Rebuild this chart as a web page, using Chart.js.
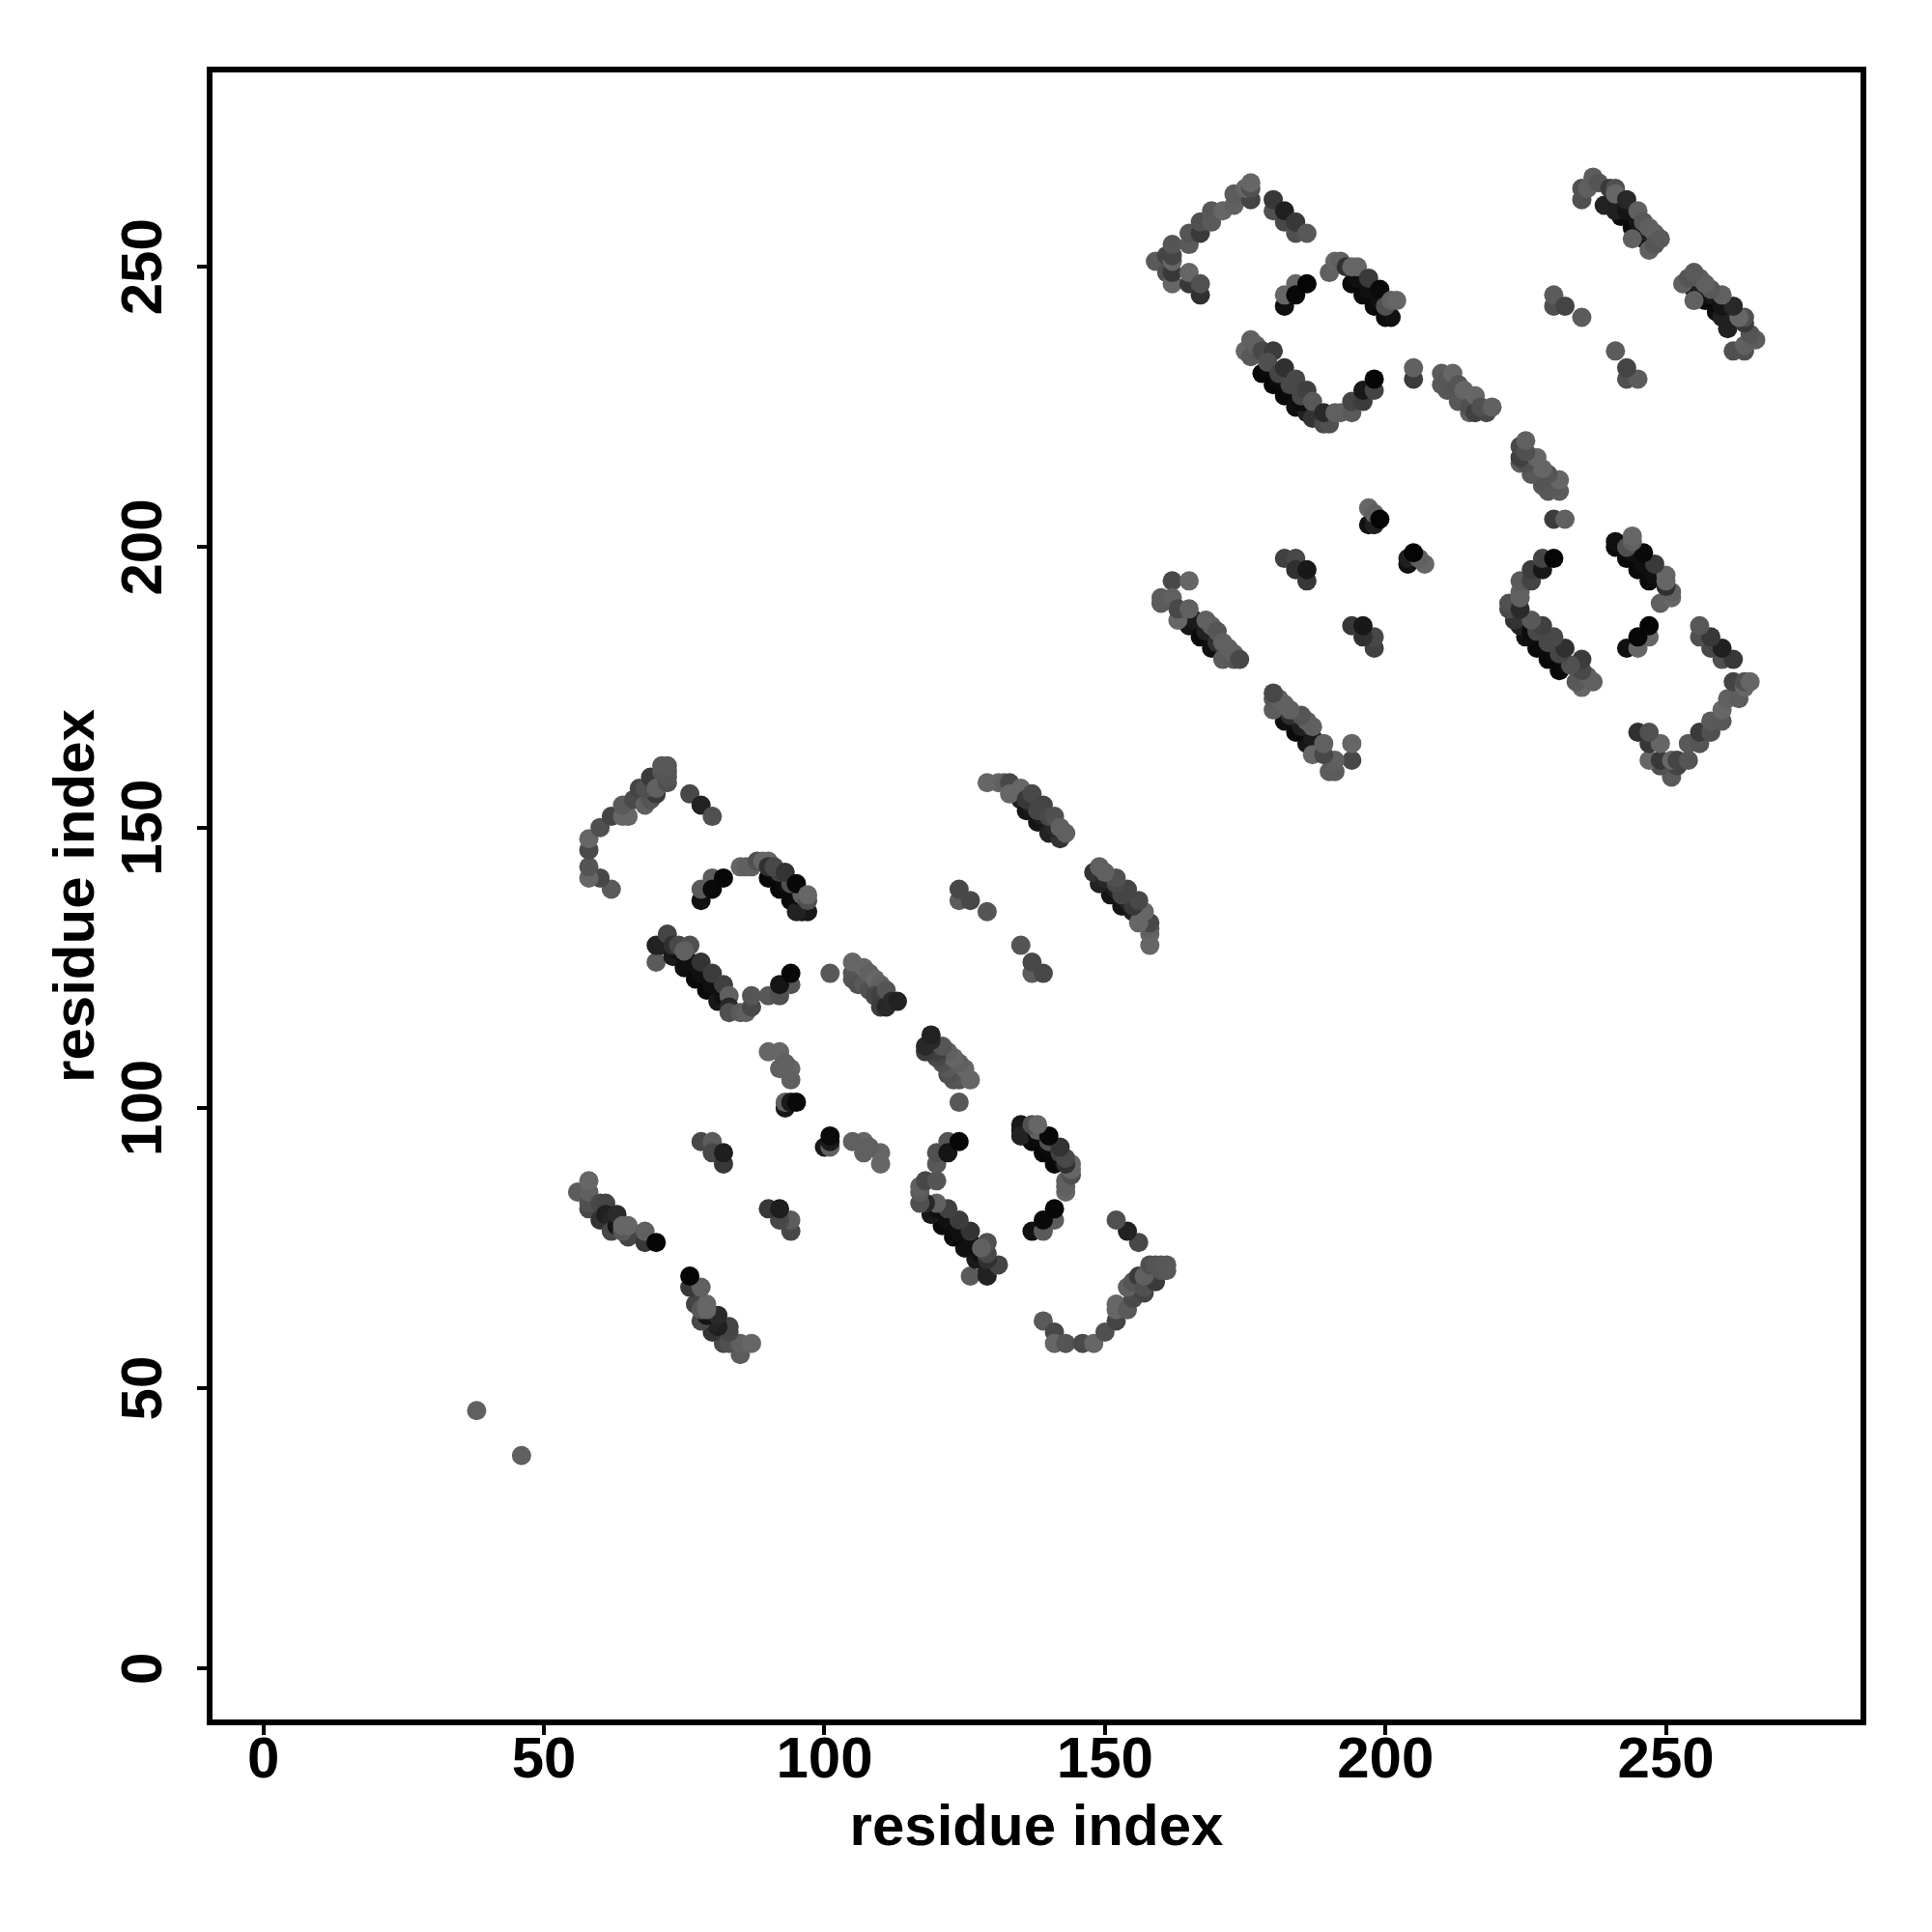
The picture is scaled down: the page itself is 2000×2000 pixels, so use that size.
<!DOCTYPE html>
<html>
<head>
<meta charset="utf-8">
<style>
  html, body { margin: 0; padding: 0; background: #fff; }
  canvas { display: block; }
</style>
<script src="https://cdn.jsdelivr.net/npm/chart.js@4"></script>
</head>
<body>
<canvas id="contactMap" width="2000" height="2000"></canvas>
<script>
// contacts: [residue i, residue j, grey level]
// the map is symmetric, so only i < j is listed and the mirror is added below
const farPair = [[38,46,0x60]];
const arcOne = [[62,139,0x5a],[60,141,0x48],[58,141,0x66],[58,143,0x55],[58,146,0x4a],[58,148,0x66],[60,150,0x50],[62,152,0x44],[64,152,0x66],[65,152,0x66],[64,154,0x5a],[66,155,0x4a],[67,157,0x44],[68,154,0x60],[69,155,0x55],[70,156,0x3a],[68,157,0x50],[69,159,0x3a],[71,158,0x40],[70,157,0x60],[72,158,0x50],[72,159,0x55],[71,160,0x55],[72,160,0x55],[71,161,0x58],[72,161,0x58]];
const tailOne = [[76,156,0x48],[78,154,0x22],[80,152,0x50]];
const hookOne = [[78,137,0x10],[78,139,0x5a],[80,141,0x5c],[80,139,0x0a],[82,141,0x08]];
const strandOne = [[90,141,0x08],[92,139,0x08],[94,137,0x0a],[96,135,0x10],[97,135,0x18],[95,135,0x22],[91,142,0x0c],[93,140,0x0c],[95,138,0x0c],[85,143,0x66],[86,143,0x60],[87,143,0x60],[88,144,0x50],[89,144,0x66],[90,144,0x66],[90,143,0x30],[92,142,0x40],[94,140,0x50],[96,138,0x60],[91,143,0x48],[93,142,0x33],[95,140,0x08],[97,137,0x50],[97,138,0x66]];
const strandTwo = [[70,126,0x5a],[70,129,0x22],[71,129,0x22],[73,127,0x1a],[75,125,0x10],[77,123,0x0a],[79,121,0x0a],[81,119,0x18],[74,128,0x10],[76,126,0x10],[78,124,0x10],[80,122,0x10],[82,120,0x10],[72,131,0x44],[73,129,0x30],[74,129,0x48],[76,129,0x50],[75,128,0x60],[78,126,0x33],[80,124,0x3c],[82,122,0x40],[83,120,0x60],[83,118,0x28],[83,117,0x50],[85,117,0x5a],[86,117,0x60],[87,118,0x48],[87,120,0x55]];
const hookTwo = [[90,120,0x58],[92,120,0x50],[94,122,0x55],[92,122,0x15],[94,124,0x08]];
const strandThree = [[101,124,0x58],[105,123,0x55],[105,124,0x55],[105,126,0x66],[106,122,0x50],[107,122,0x58],[108,121,0x50],[107,125,0x66],[108,124,0x60],[109,123,0x66],[110,122,0x60],[109,120,0x48],[110,120,0x40],[110,118,0x3c],[111,118,0x28],[111,121,0x55],[112,119,0x2a],[113,119,0x22]];
const patchOne = [[93,100,0x18],[93,101,0x60],[94,101,0x1a],[95,101,0x0a],[90,110,0x66],[92,110,0x66],[92,107,0x60],[94,107,0x66],[93,108,0x60],[94,105,0x60]];
const patchTwo = [[78,94,0x48],[80,94,0x5c],[80,92,0x48],[82,90,0x38],[82,92,0x1e]];
const strandFour = [[56,85,0x5c],[58,82,0x48],[58,83,0x50],[58,85,0x60],[58,87,0x66],[60,80,0x33],[60,83,0x48],[61,83,0x44],[61,81,0x20],[62,80,0x25],[62,78,0x48],[63,79,0x15],[63,81,0x2a],[65,77,0x44],[64,78,0x58],[64,79,0x66],[65,79,0x66],[68,76,0x38],[68,78,0x60],[70,76,0x05]];
const strandFive = [[135,155,0x22],[136,153,0x15],[138,151,0x15],[140,149,0x22],[142,148,0x33],[137,154,0x20],[139,152,0x20],[141,150,0x28],[129,158,0x66],[131,158,0x66],[132,158,0x60],[133,158,0x48],[133,156,0x66],[135,157,0x66],[136,155,0x38],[137,156,0x48],[138,153,0x45],[139,154,0x44],[140,152,0x48],[141,152,0x50],[142,150,0x60],[143,149,0x60]];
const patchThree = [[124,137,0x5c],[124,139,0x48],[126,137,0x48],[129,135,0x55]];
const arcTwo = [[159,251,0x5a],[161,252,0x44],[161,249,0x50],[162,247,0x66],[162,249,0x38],[162,251,0x66],[162,252,0x45],[162,254,0x55],[165,247,0x38],[165,249,0x66],[167,245,0x30],[167,247,0x50],[165,254,0x5a],[165,256,0x55],[167,256,0x3a],[167,258,0x50],[169,258,0x5a],[169,260,0x58],[171,260,0x66],[173,261,0x60],[173,263,0x5c],[176,262,0x44],[175,264,0x66],[176,264,0x50],[176,265,0x66]];
const tailTwo = [[180,260,0x50],[180,262,0x38],[182,258,0x48],[182,260,0x20],[184,256,0x50],[184,258,0x38],[186,256,0x58]];
const hookThree = [[182,243,0x10],[182,245,0x66],[184,247,0x66],[184,245,0x08],[186,247,0x05]];
const strandSix = [[194,247,0x0a],[196,245,0x0a],[198,243,0x0a],[200,241,0x0c],[201,241,0x10],[195,248,0x10],[197,246,0x10],[199,244,0x10],[190,249,0x60],[191,251,0x66],[192,251,0x60],[193,250,0x30],[194,250,0x66],[195,250,0x66],[197,248,0x3a],[199,246,0x0a],[200,243,0x50],[201,244,0x60],[202,244,0x66]];
const strandSeven = [[178,231,0x08],[180,229,0x08],[182,227,0x0a],[184,225,0x10],[186,224,0x20],[179,232,0x0c],[181,230,0x0c],[183,228,0x0c],[185,226,0x0c],[175,235,0x66],[176,234,0x58],[176,237,0x60],[177,236,0x60],[178,235,0x48],[180,235,0x3c],[179,233,0x50],[181,231,0x45],[183,229,0x48],[185,227,0x48],[182,232,0x30],[184,230,0x48],[186,228,0x40],[187,223,0x33],[187,226,0x58],[189,222,0x48],[190,222,0x50],[189,224,0x2a],[191,224,0x60],[192,224,0x60],[194,224,0x5a],[194,226,0x44],[196,226,0x3c],[196,228,0x18],[198,228,0x44],[198,230,0x06]];
const patchFour = [[205,230,0x3c],[205,232,0x60]];
const strandEight = [[210,229,0x58],[210,231,0x5c],[211,230,0x58],[211,228,0x58],[212,228,0x55],[212,231,0x66],[213,226,0x58],[213,229,0x55],[214,226,0x58],[214,228,0x66],[215,224,0x60],[215,225,0x50],[216,224,0x40],[216,227,0x66],[218,224,0x48],[217,225,0x50],[219,225,0x60]];
const patchFive = [[197,204,0x10],[198,204,0x20],[197,207,0x66],[198,206,0x60],[199,205,0x05]];
const patchSix = [[230,243,0x50],[230,245,0x5c],[232,243,0x44],[235,241,0x5c]];
const patchSeven = [[182,198,0x40],[184,198,0x48],[184,196,0x30],[186,194,0x38],[186,196,0x18]];
const strandNine = [[165,186,0x15],[166,187,0x1a],[167,184,0x0a],[169,182,0x10],[168,185,0x20],[170,183,0x30],[162,194,0x48],[165,194,0x66],[160,190,0x5c],[160,191,0x5c],[162,191,0x60],[163,187,0x66],[163,189,0x48],[165,189,0x60],[168,187,0x60],[169,186,0x60],[170,185,0x55],[171,180,0x5c],[173,180,0x58],[171,183,0x60],[172,182,0x60],[173,181,0x60],[174,180,0x48]];
const strandTen = [[239,261,0x22],[242,259,0x0c],[244,257,0x0a],[246,255,0x10],[241,260,0x20],[243,260,0x15],[245,258,0x15],[247,256,0x20],[235,262,0x50],[235,264,0x50],[236,264,0x60],[237,266,0x5c],[238,265,0x55],[240,264,0x3a],[241,264,0x50],[241,263,0x66],[243,262,0x28],[244,255,0x60],[245,260,0x60],[246,258,0x58],[247,253,0x60],[247,257,0x60],[248,256,0x60],[248,254,0x55],[249,255,0x5a]];

const allContacts = [farPair, arcOne, tailOne, hookOne, strandOne, strandTwo, hookTwo, strandThree,
  patchOne, patchTwo, strandFour, strandFive, patchThree, arcTwo, tailTwo, hookThree, strandSix,
  strandSeven, patchFour, strandEight, patchFive, patchSix, patchSeven, strandNine, strandTen].flat();

const tickValues = [0, 50, 100, 150, 200, 250];
const axisTitle = "residue index";

const points = [];
const colors = [];
allContacts.forEach(c => {
  points.push({ x: c[0], y: c[1] });
  colors.push(`rgb(${c[2]},${c[2]},${c[2]})`);
});
allContacts.forEach(c => {
  points.push({ x: c[1], y: c[0] });
  colors.push(`rgb(${c[2]},${c[2]},${c[2]})`);
});

const labelFont = { family: "'Liberation Sans'", size: 60, weight: "bold" };

const boxPlugin = {
  id: "box",
  afterDatasetsDraw(chart) {
    const a = chart.chartArea;
    const ctx = chart.ctx;
    ctx.save();
    ctx.strokeStyle = "#000";
    ctx.lineWidth = 6;
    ctx.strokeRect(a.left, a.top, a.right - a.left, a.bottom - a.top);
    ctx.restore();
  }
};

function setTicks(scale) {
  scale.ticks = tickValues.map(v => ({ value: v }));
}

new Chart(document.getElementById("contactMap"), {
  type: "scatter",
  data: {
    datasets: [{
      data: points,
      pointRadius: 10,
      pointBorderWidth: 0,
      pointBackgroundColor: colors
    }]
  },
  options: {
    responsive: false,
    animation: false,
    layout: { padding: { top: 72, right: 71, left: 0, bottom: 0 } },
    plugins: { legend: { display: false }, tooltip: { enabled: false } },
    scales: {
      x: {
        type: "linear",
        min: -9.6,
        max: 285.2,
        afterBuildTicks: setTicks,
        afterFit: s => { s.height = 217; },
        grid: { drawOnChartArea: false, color: "#000", tickLength: 13, lineWidth: 4 },
        border: { display: false },
        ticks: { color: "#000", font: labelFont, padding: -9, maxRotation: 0, autoSkip: false },
        title: { display: true, text: axisTitle, color: "#000", font: labelFont, padding: { top: 6, bottom: 71 } }
      },
      y: {
        type: "linear",
        min: -9.6,
        max: 285.2,
        afterBuildTicks: setTicks,
        afterCalculateLabelRotation: s => { s.labelRotation = 90; },
        afterFit: s => { s.width = 217; },
        grid: { drawOnChartArea: false, color: "#000", tickLength: 13, lineWidth: 4 },
        border: { display: false },
        ticks: { color: "#000", font: labelFont, padding: 3, crossAlign: "center", autoSkip: false },
        title: { display: true, text: axisTitle, color: "#000", font: labelFont, padding: { top: 44, bottom: 44 } }
      }
    }
  },
  plugins: [boxPlugin]
});
</script>
</body>
</html>
